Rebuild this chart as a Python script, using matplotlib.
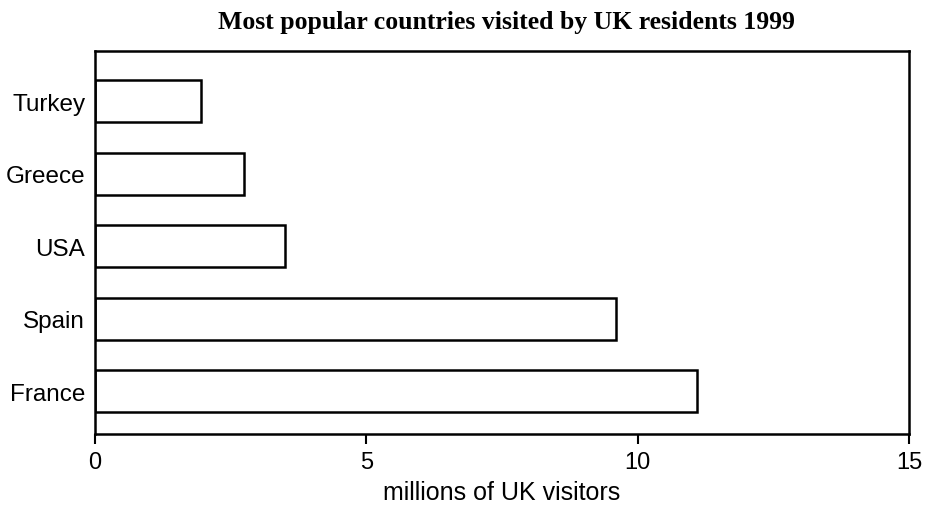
import matplotlib.pyplot as plt

# data (millions of UK visitors)
countries = ['France', 'Spain', 'USA', 'Greece', 'Turkey']
visitors = [11.1, 9.6, 3.5, 2.75, 1.95]
xticks = [0, 5, 10, 15]

fig = plt.figure(figsize=(9.25, 5.06), dpi=100)
ax = fig.add_axes([0.1027, 0.1403, 0.88, 0.757])

ax.barh(range(len(countries)), visitors, height=0.58,
        color='white', edgecolor='black', linewidth=1.8)

ax.set_xlim(0, 15)
ax.set_ylim(-0.59, 4.69)
ax.set_xticks(xticks)
ax.set_xticklabels([str(t) for t in xticks], fontsize=17, family='Liberation Sans')
ax.set_yticks(range(len(countries)))
ax.set_yticklabels(countries, fontsize=17.5, family='Liberation Sans')
ax.tick_params(axis='y', length=0, pad=7)
ax.tick_params(axis='x', length=7, width=1.5, pad=5)

for s in ax.spines.values():
    s.set_linewidth(1.8)

ax.set_xlabel('millions of UK visitors', fontsize=18, family='Liberation Sans', labelpad=5)
fig.text(0.548, 0.955, 'Most popular countries visited by UK residents 1999',
         ha='center', va='center', fontsize=18.5, fontweight='bold', family='Liberation Serif')

fig.savefig('out.png', dpi=100)
